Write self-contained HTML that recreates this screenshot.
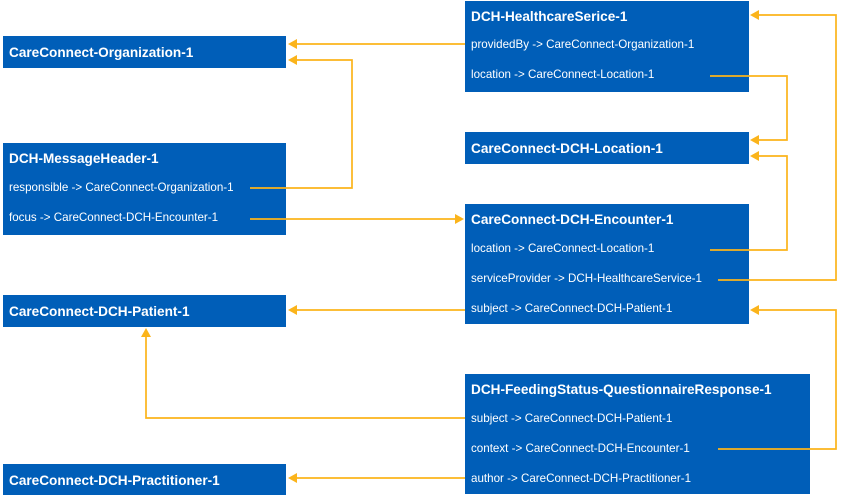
<!DOCTYPE html>
<html><head><meta charset="utf-8"><style>
html,body{margin:0;padding:0;background:#fff;}
svg{display:block;}
.b{fill:#005eb8;}
.t{font-family:"Liberation Sans",sans-serif;font-weight:bold;font-size:13.6px;fill:#fff;}
.r{font-family:"Liberation Sans",sans-serif;font-size:11.6px;fill:#fff;}
.l{fill:none;stroke:#fbb41b;stroke-width:1.7;}
.a{fill:#fbb41b;}
</style></head><body>
<svg width="845" height="497" viewBox="0 0 845 497">
<rect class="b" x="3" y="36" width="283" height="32"/>
<text class="t" x="9" y="57">CareConnect-Organization-1</text>
<rect class="b" x="3" y="143" width="283" height="92"/>
<text class="t" x="9" y="163">DCH-MessageHeader-1</text>
<text class="r" x="9" y="191">responsible -&gt; CareConnect-Organization-1</text>
<text class="r" x="9" y="221">focus -&gt; CareConnect-DCH-Encounter-1</text>
<rect class="b" x="3" y="295" width="283" height="32"/>
<text class="t" x="9" y="316">CareConnect-DCH-Patient-1</text>
<rect class="b" x="3" y="464" width="283" height="31"/>
<text class="t" x="9" y="485">CareConnect-DCH-Practitioner-1</text>
<rect class="b" x="465" y="1" width="284" height="91"/>
<text class="t" x="471" y="21">DCH-HealthcareSerice-1</text>
<text class="r" x="471" y="48">providedBy -&gt; CareConnect-Organization-1</text>
<text class="r" x="471" y="78">location -&gt; CareConnect-Location-1</text>
<rect class="b" x="465" y="132" width="284" height="32"/>
<text class="t" x="471" y="153">CareConnect-DCH-Location-1</text>
<rect class="b" x="465" y="204" width="284" height="120"/>
<text class="t" x="471" y="224">CareConnect-DCH-Encounter-1</text>
<text class="r" x="471" y="252">location -&gt; CareConnect-Location-1</text>
<text class="r" x="471" y="282">serviceProvider -&gt; DCH-HealthcareService-1</text>
<text class="r" x="471" y="312">subject -&gt; CareConnect-DCH-Patient-1</text>
<rect class="b" x="465" y="374" width="345" height="120"/>
<text class="t" x="471" y="394">DCH-FeedingStatus-QuestionnaireResponse-1</text>
<text class="r" x="471" y="422">subject -&gt; CareConnect-DCH-Patient-1</text>
<text class="r" x="471" y="452">context -&gt; CareConnect-DCH-Encounter-1</text>
<text class="r" x="471" y="482">author -&gt; CareConnect-DCH-Practitioner-1</text>

<path class="l" d="M465 44 H295"/><path class="a" d="M288 44 l9 -5 v10z"/>
<path class="l" d="M710 76 H787 V140 H758"/><path class="a" d="M750 140 l9 -5 v10z"/>
<path class="l" d="M250 188 H352 V60 H295"/><path class="a" d="M288 60 l9 -5 v10z"/>
<path class="l" d="M250 219 H456"/><path class="a" d="M464 219 l-9 -5 v10z"/>
<path class="l" d="M710 250 H787 V156 H758"/><path class="a" d="M750 156 l9 -5 v10z"/>
<path class="l" d="M718 280 H836 V15 H758"/><path class="a" d="M750 15 l9 -5 v10z"/>
<path class="l" d="M465 310 H295"/><path class="a" d="M288 310 l9 -5 v10z"/>
<path class="l" d="M465 418 H146 V336"/><path class="a" d="M146 328 l-5 9 h10z"/>
<path class="l" d="M718 449 H836 V310 H758"/><path class="a" d="M750 310 l9 -5 v10z"/>
<path class="l" d="M465 478 H295"/><path class="a" d="M288 478 l9 -5 v10z"/>
</svg>
</body></html>
